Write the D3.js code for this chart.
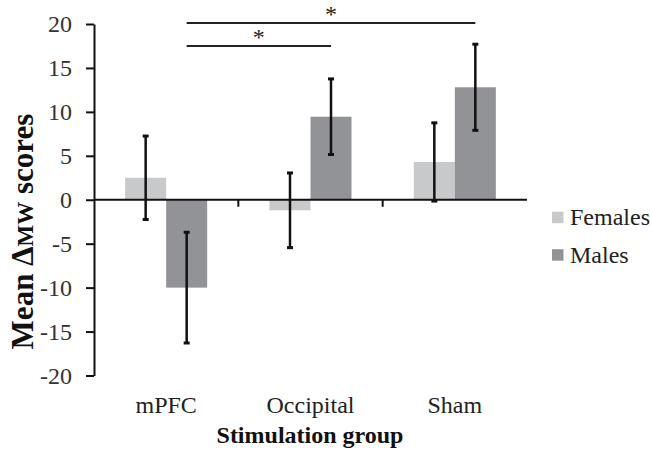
<!DOCTYPE html>
<html>
<head>
<meta charset="utf-8">
<script src="https://cdn.jsdelivr.net/npm/d3@7"></script>
</head>
<body style="margin:0;background:#fff">
<div id="chart"></div>
<script>
// data
const groups = ["mPFC", "Occipital", "Sham"];
const series = ["Females", "Males"];
const femaleMeans = [2.5, -1.2, 4.3];
const femaleErr = [4.75, 4.25, 4.45];
const maleMeans = [-10.0, 9.45, 12.8];
const maleErr = [6.3, 4.3, 4.9];
const yTicks = [-20, -15, -10, -5, 0, 5, 10, 15, 20];
// significance brackets between male bars, at level
const sigFrom = ["mPFC", "mPFC"];
const sigTo = ["Occipital", "Sham"];
const sigLevel = [17.5, 20.1];

const colors = { Females: "#c8c9cb", Males: "#929397" };
const FONT = '"Liberation Serif"';

const W = 651, H = 450;
const plotLeft = 94, plotRight = 527, plotTop = 24, plotBottom = 375.5;

const svg = d3.select("#chart").append("svg")
    .attr("width", W)
    .attr("height", H);

const y = d3.scaleLinear().domain([-20, 20]).range([plotBottom, plotTop]);
const x0 = d3.scaleBand().domain(groups).range([plotLeft, plotRight]).paddingInner(0);
const x1 = d3.scaleBand().domain(series).range([0, x0.bandwidth()]).paddingOuter(0.76);

const rows = groups.map((g, i) => ({
    group: g,
    values: [
        { key: "Females", mean: femaleMeans[i], err: femaleErr[i] },
        { key: "Males", mean: maleMeans[i], err: maleErr[i] }
    ]
}));

// bars
const gGroup = svg.append("g").selectAll("g")
    .data(rows)
    .enter().append("g")
    .attr("transform", d => `translate(${x0(d.group)},0)`);

gGroup.selectAll("rect")
    .data(d => d.values)
    .enter().append("rect")
    .attr("x", d => x1(d.key))
    .attr("width", x1.bandwidth())
    .attr("y", d => y(Math.max(0, d.mean)))
    .attr("height", d => Math.abs(y(d.mean) - y(0)))
    .attr("fill", d => colors[d.key]);

// y axis (plain hyphen for negatives, like the original)
const yAxis = svg.append("g")
    .attr("transform", `translate(${plotLeft},0)`)
    .call(d3.axisLeft(y).tickValues(yTicks).tickFormat(d => String(d))
        .tickSize(8).tickSizeOuter(0).tickPadding(14));
yAxis.attr("font-family", null).attr("font-size", null);
yAxis.select(".domain").attr("stroke", "#111").attr("stroke-width", 2);
yAxis.selectAll(".tick line").attr("stroke", "#111").attr("stroke-width", 2);
yAxis.selectAll(".tick text")
    .style("font-family", FONT)
    .style("font-size", "24px")
    .attr("fill", "#333");

// x axis at zero
svg.append("line")
    .attr("x1", plotLeft).attr("x2", plotRight)
    .attr("y1", y(0)).attr("y2", y(0))
    .attr("stroke", "#111").attr("stroke-width", 2);

svg.append("g").selectAll("line")
    .data(groups.slice(1))
    .enter().append("line")
    .attr("x1", d => x0(d)).attr("x2", d => x0(d))
    .attr("y1", y(0)).attr("y2", y(0) + 7)
    .attr("stroke", "#111").attr("stroke-width", 2);

// error bars
const eb = gGroup.selectAll("g.err")
    .data(d => d.values)
    .enter().append("g")
    .attr("class", "err");
const cx = d => x1(d.key) + x1.bandwidth() / 2;
eb.append("line")
    .attr("x1", cx).attr("x2", cx)
    .attr("y1", d => y(d.mean + d.err))
    .attr("y2", d => y(d.mean - d.err))
    .attr("stroke", "#111").attr("stroke-width", 2.5);
eb.selectAll("line.cap")
    .data(d => [{ c: cx(d), v: d.mean + d.err }, { c: cx(d), v: d.mean - d.err }])
    .enter().append("line")
    .attr("class", "cap")
    .attr("x1", d => d.c - 3).attr("x2", d => d.c + 3)
    .attr("y1", d => y(d.v)).attr("y2", d => y(d.v))
    .attr("stroke", "#111").attr("stroke-width", 3);

// significance lines
const maleX = g => x0(g) + x1("Males") + x1.bandwidth() / 2;
const sig = sigFrom.map((f, i) => ({ from: f, to: sigTo[i], level: sigLevel[i] }));
svg.append("g").selectAll("line")
    .data(sig)
    .enter().append("line")
    .attr("x1", d => maleX(d.from)).attr("x2", d => maleX(d.to))
    .attr("y1", d => y(d.level)).attr("y2", d => y(d.level))
    .attr("stroke", "#222").attr("stroke-width", 2);
svg.append("g").selectAll("text")
    .data(sig)
    .enter().append("text")
    .attr("x", d => (maleX(d.from) + maleX(d.to)) / 2)
    .attr("y", d => y(d.level) - 1)
    .attr("text-anchor", "middle")
    .attr("fill", "#222")
    .style("font-family", FONT)
    .style("font-size", "24px")
    .text("*");

// category labels
svg.append("g").selectAll("text")
    .data(groups)
    .enter().append("text")
    .attr("x", d => x0(d) + x0.bandwidth() / 2)
    .attr("y", 413)
    .attr("text-anchor", "middle")
    .attr("fill", "#222")
    .style("font-family", FONT)
    .style("font-size", "24px")
    .text(d => d);

// axis titles
svg.append("text")
    .attr("x", 310)
    .attr("y", 443)
    .attr("text-anchor", "middle")
    .attr("fill", "#111")
    .style("font-family", FONT)
    .style("font-size", "24px")
    .style("font-weight", "bold")
    .text("Stimulation group");

const yt = svg.append("text")
    .attr("transform", "translate(33,231.5) rotate(-90)")
    .attr("text-anchor", "middle")
    .attr("fill", "#111")
    .style("font-family", FONT)
    .style("font-size", "31px")
    .style("font-weight", "bold");
yt.append("tspan").text("Mean \u0394");
yt.append("tspan").style("font-size", "23px").text("MW");
yt.append("tspan").text(" scores");

// legend
const legend = svg.append("g").selectAll("g")
    .data(series)
    .enter().append("g")
    .attr("transform", (d, i) => `translate(552,${211.7 + i * 37.5})`);
legend.append("rect")
    .attr("width", 11.5).attr("height", 11.5)
    .attr("fill", d => colors[d]);
legend.append("text")
    .attr("x", 18).attr("y", 13.3)
    .attr("fill", "#222")
    .style("font-family", FONT)
    .style("font-size", "24px")
    .text(d => d);
</script>
</body>
</html>
